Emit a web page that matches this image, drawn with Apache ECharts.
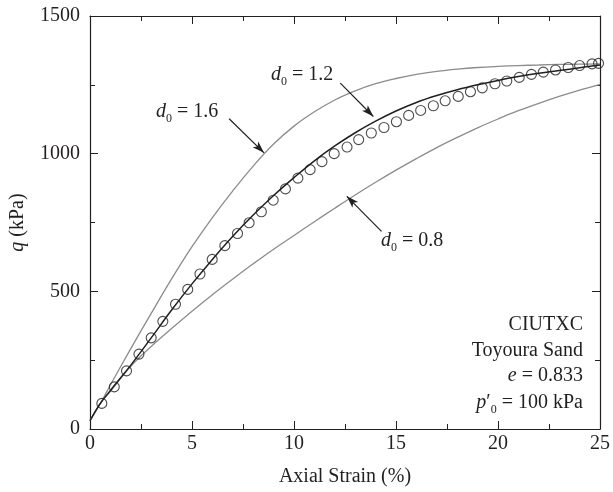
<!DOCTYPE html>
<html><head><meta charset="utf-8">
<script src="https://cdn.jsdelivr.net/npm/echarts@6.0.0/dist/echarts.min.js"></script>
<style>html,body{margin:0;padding:0;background:#fff}#c{width:613px;height:492px}</style>
</head><body><div id="c"></div>
<script>
// Experimental points (CIUTXC, Toyoura Sand)
const strainExp = [0.58,1.19,1.79,2.40,3.00,3.57,4.19,4.79,5.39,5.99,6.61,7.23,7.80,8.40,8.98,9.58,10.19,10.79,11.37,11.97,12.60,13.17,13.79,14.41,15.02,15.62,16.21,16.83,17.41,18.05,18.65,19.23,19.85,20.43,21.04,21.64,22.22,22.82,23.44,24.00,24.61,24.93];
const qExp = [93,153,211,272,331,391,453,507,563,616,666,710,749,789,831,872,911,942,971,1000,1024,1051,1075,1095,1116,1139,1157,1174,1192,1208,1225,1239,1254,1264,1277,1288,1296,1304,1313,1320,1326,1328];
// Model curves
const strainModel = [0,0.5,1,2,3,4,5,6,7,8,9,10,11,12,13,14,15,16,17,18,19,20,21,22,23,24,25];
const qD16 = [30,92,160,292,420,545,662,768,865,955,1035,1100,1152,1195,1228,1254,1273,1288,1299,1307,1313,1317,1320,1322,1324,1325,1326];
const qD12 = [30,92,140,232,331,432,527,616,700,777,848,913,974,1028,1076,1118,1155,1186,1211,1232,1250,1266,1280,1292,1302,1312,1322];
const qD08 = [30,92,137,228,300,365,428,488,545,600,653,703,753,802,850,896,940,982,1022,1059,1094,1126,1156,1183,1208,1231,1252];
const xTicks = {min:0, max:25, interval:5};
const yTicks = {min:0, max:1500, interval:500};
// annotation arrows in data coordinates [fromX, fromY, toX, toY]
const arrow16 = [6.82,1127,8.53,1003];
const arrow12 = [12.27,1256,13.89,1135];
const arrow08 = [14.29,718,12.59,845];

const FONT = '"Liberation Serif", "Times New Roman", serif';
const FS = 20;
const INK = '#231f20';
const GRAY = '#8c8c8c';
const zip = (xs, ys) => xs.map((x,i)=>[x, ys[i]]);

const chart = echarts.init(document.getElementById('c'), null, {renderer:'canvas'});

function axisCommon(extra){
  return Object.assign({
    type:'value',
    axisLine:{show:true, onZero:false, lineStyle:{color:INK, width:1.2}},
    axisTick:{show:true, inside:true, length:8, lineStyle:{color:INK, width:1}},
    minorTick:{show:true, splitNumber:2, length:5, lineStyle:{color:INK, width:1}},
    splitLine:{show:false},
    minorSplitLine:{show:false},
  }, extra);
}
const arrowLine = (a) => [
  {coord:[a[0],a[1]], symbol:'none'},
  {coord:[a[2],a[3]], symbol:'arrow', symbolSize:[6,12]}
];
const richBase = {
  i:{fontStyle:'italic', fontFamily:FONT, fontSize:FS, fill:INK, color:INK},
  n:{fontFamily:FONT, fontSize:FS, fill:INK, color:INK},
  s:{fontFamily:FONT, fontSize:12, fill:INK, color:INK, padding:[13,0,0,0]}
};
function txt(text, x, y, align){
  return {type:'text', x:x, y:y, silent:true,
    style:{text:text, align:align||'left', verticalAlign:'middle', fontFamily:FONT, fontSize:FS, fill:INK, rich:richBase}};
}
const plainNum = v => String(v);

chart.setOption({
  animation:false,
  backgroundColor:'#fff',
  grid:{left:90, right:10, top:16, bottom:62, containLabel:false},
  xAxis:[
    axisCommon(Object.assign({position:'bottom', name:'Axial Strain (%)', nameLocation:'middle', nameGap:38,
      nameTextStyle:{color:INK, fontFamily:FONT, fontSize:FS},
      axisLabel:{show:true, color:INK, fontFamily:FONT, fontSize:FS, margin:5, formatter:plainNum}}, xTicks)),
    axisCommon(Object.assign({position:'top', axisLabel:{show:false}}, xTicks))
  ],
  yAxis:[
    axisCommon(Object.assign({position:'left', name:'{i|q} (kPa)', nameLocation:'middle', nameGap:62,
      nameTextStyle:{color:INK, fontFamily:FONT, fontSize:FS, rich:{i:{fontStyle:'italic', fontFamily:FONT, fontSize:FS, color:INK}}},
      axisLabel:{show:true, color:INK, fontFamily:FONT, fontSize:FS, margin:10, formatter:plainNum}}, yTicks)),
    axisCommon(Object.assign({position:'right', axisLabel:{show:false}}, yTicks))
  ],
  series:[
    {type:'line', name:'d0=1.6', data:zip(strainModel,qD16), smooth:0.4, showSymbol:false,
      lineStyle:{color:GRAY, width:1.3}, z:2},
    {type:'line', name:'d0=0.8', data:zip(strainModel,qD08), smooth:0.4, showSymbol:false,
      lineStyle:{color:GRAY, width:1.3}, z:2},
    {type:'line', name:'d0=1.2', data:zip(strainModel,qD12), smooth:0.4, showSymbol:false,
      lineStyle:{color:INK, width:1.5}, z:3,
      markLine:{silent:true, symbol:['none','arrow'], label:{show:false},
        lineStyle:{color:INK, width:1.2, type:'solid'},
        emphasis:{disabled:true},
        data:[arrowLine(arrow16), arrowLine(arrow12), arrowLine(arrow08)]}},
    {type:'scatter', name:'exp', data:zip(strainExp,qExp), symbol:'circle', symbolSize:10,
      itemStyle:{color:'rgba(0,0,0,0)', borderColor:INK, borderWidth:1.1}, z:4}
  ],
  graphic:[
    txt('{i|d}{s|0}{n| = 1.6}', 156, 112),
    txt('{i|d}{s|0}{n| = 1.2}', 271, 75),
    txt('{i|d}{s|0}{n| = 0.8}', 381, 241),
    txt('{n|CIUTXC}', 583, 325, 'right'),
    txt('{n|Toyoura Sand}', 583, 351, 'right'),
    txt('{i|e}{n| = 0.833}', 583, 376, 'right'),
    txt('{i|p}{n|′}{s|0}{n| = 100 kPa}', 583, 403, 'right')
  ]
});
</script></body></html>
